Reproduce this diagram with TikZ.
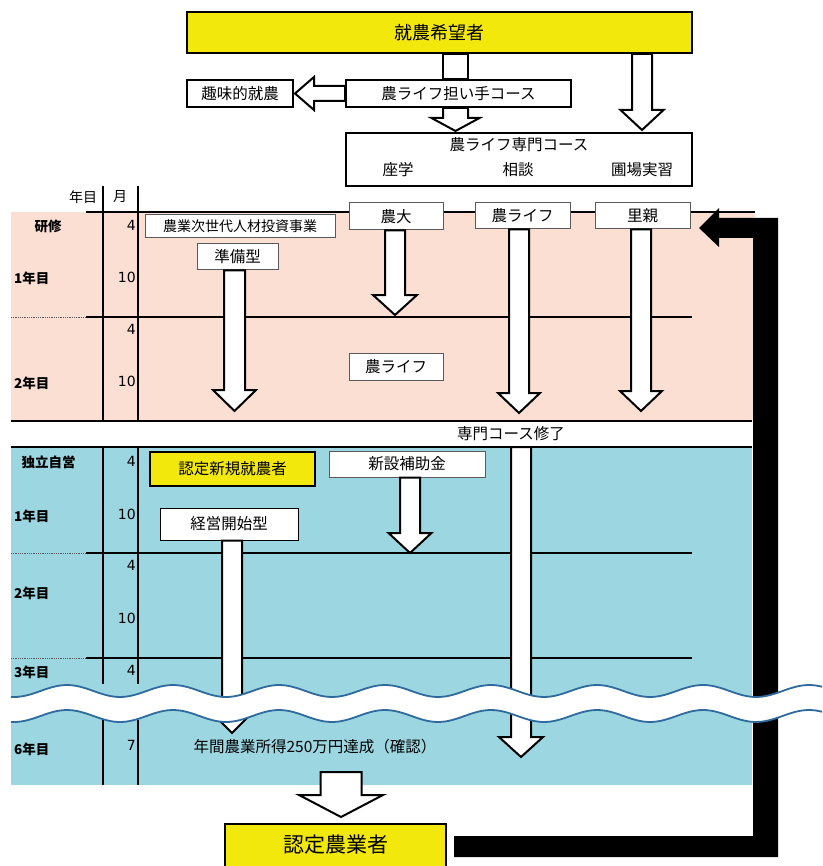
\documentclass[tikz,border=0pt]{standalone}
\usepackage{fontspec}
\setmainfont{Noto Sans CJK JP}
\newfontfamily\digitfont{DejaVu Sans}
\usepackage{xcolor}
\usepackage{tikz}
\usetikzlibrary{calc}

\definecolor{boxyellow}{RGB}{242,232,12}
\definecolor{rowpink}{RGB}{252,223,211}
\definecolor{rowblue}{RGB}{156,215,225}
\definecolor{wavecol}{RGB}{47,106,158}
\definecolor{grayline}{RGB}{90,90,90}

\newcommand\fsbig{\fontsize{18}{20}\selectfont}
\newcommand\fsmain{\fontsize{15.5}{18}\selectfont}
\newcommand\fssmall{\fontsize{14}{16}\selectfont}
\newcommand\fsside{\fontsize{13.5}{16}\selectfont}
\newcommand\fsgoal{\fontsize{21}{24}\selectfont}

% down / left block arrows: from, tip, half shaft, half head, head length
\newcommand\downblock[5]{%
  \draw[blockarrow] let \p1=(#1), \p2=(#2) in
    (\x2-#3pt,\y1) -- (\x2-#3pt,\y2+#5pt) -- (\x2-#4pt,\y2+#5pt) -- (\x2,\y2)
    -- (\x2+#4pt,\y2+#5pt) -- (\x2+#3pt,\y2+#5pt) -- (\x2+#3pt,\y1) -- cycle;}
\newcommand\leftblock[5]{%
  \draw[blockarrow] let \p1=(#1), \p2=(#2) in
    (\x1,\y2+#3pt) -- (\x2+#5pt,\y2+#3pt) -- (\x2+#5pt,\y2+#4pt) -- (\x2,\y2)
    -- (\x2+#5pt,\y2-#4pt) -- (\x2+#5pt,\y2-#3pt) -- (\x1,\y2-#3pt) -- cycle;}

\begin{document}
\begin{tikzpicture}[x=1pt,y=-1pt,
    every node/.style={font=\fsmain,inner sep=0pt},
    headbox/.style={draw,line width=2pt,fill=white},
    yellowbox/.style={headbox,fill=boxyellow},
    tagbox/.style={draw=grayline,line width=1pt,fill=white},
    rowlabel/.style={font=\fsside\bfseries,anchor=west},
    month/.style={anchor=east,font=\digitfont\fontsize{14}{16}\selectfont},
    tline/.style={line width=1.6pt},
    dotline/.style={densely dotted,line width=0.8pt,grayline},
    blockarrow/.style={draw,line width=2pt,fill=white,line join=miter},
    wave/.style={wavecol,line width=1.8pt}]
    \useasboundingbox (0,0) rectangle (822,866);

    % background rows
    \fill[rowpink] (11,212) rectangle (755,421);
    \fill[rowblue] (11,447) rectangle (752,785);

    % table lines
    \draw[tline] (103,186) -- (103,421) (138,186) -- (138,421);
    \draw[tline] (103,447) -- (103,684) (138,447) -- (138,684);
    \draw[tline] (103,720) -- (103,785) (138,720) -- (138,785);
    \draw[tline] (86,212) -- (755,212);
    \draw[tline] (86,317) -- (692,317) (86,553) -- (692,553) (86,658) -- (692,658);
    \draw[dotline] (11,317) -- (86,317) (11,553) -- (86,553) (11,658) -- (86,658);
    \node[fill=white,minimum width=741,minimum height=26] (band) at (381.5,434) {};
    \draw[tline] (band.north west) -- (band.north east) (band.south west) -- (band.south east);
    \node (shuryo) at (511,434) {専門コース修了};

    % top flow
    \node[yellowbox,minimum width=505,minimum height=41,font=\fsbig] (wish) at (439.5,32.5) {就農希望者};
    \node[headbox,minimum width=106,minimum height=27] (hobby) at (240,93.5) {趣味的就農};
    \node[headbox,minimum width=225,minimum height=27] (ninaite) at (458.5,93.5) {農ライフ担い手コース};
    \node[headbox,minimum width=346,minimum height=53] (senmon) at (519,159.5) {};
    \node (senmontitle) at (519,145) {農ライフ専門コース};
    \node (zagaku) at (398,170) {座学};
    \node (soudan) at (518,170) {相談};
    \node (hojou) at (642,170) {圃場実習};

    % header and row labels
    \node[font=\fssmall] (nenme) at (83,197) {年目};
    \node[font=\fssmall] (tsuki) at (120,197) {月};
    \node[font=\fsside\bfseries] (kenshu) at (48,226) {研修};
    \node[rowlabel] (y1a) at (14,278) {1年目};
    \node[rowlabel] (y2a) at (14,383) {2年目};
    \node[font=\fsside\bfseries] (dokuritsu) at (48.5,462) {独立自営};
    \node[rowlabel] (y1b) at (14,516) {1年目};
    \node[rowlabel] (y2b) at (14,593) {2年目};
    \node[rowlabel] (y3b) at (14,672) {3年目};
    \node[rowlabel] (y6b) at (14,749) {6年目};
    \node[month] (m1) at (136,225) {4};
    \node[month] (m2) at (136,277) {10};
    \node[month] (m3) at (136,329) {4};
    \node[month] (m4) at (136,381) {10};
    \node[month] (m5) at (136,461) {4};
    \node[month] (m6) at (136,514) {10};
    \node[month] (m7) at (136,565) {4};
    \node[month] (m8) at (136,618) {10};
    \node[month] (m9) at (136,670) {4};
    \node[month] (m10) at (136,745) {7};

    % training boxes
    \node[tagbox,minimum width=190,minimum height=23,font=\fssmall] (jisedai) at (240,226.5) {農業次世代人材投資事業};
    \node[tagbox,minimum width=81,minimum height=26] (junbi) at (237.5,257) {準備型};
    \node[tagbox,minimum width=94,minimum height=27] (nodai) at (396,216.5) {農大};
    \node[tagbox,minimum width=95,minimum height=26] (nlifeA) at (522.5,216) {農ライフ};
    \node[tagbox,minimum width=95,minimum height=26] (satooya) at (642.5,216) {里親};
    \node[tagbox,minimum width=94,minimum height=27] (nlifeC) at (396,366.5) {農ライフ};

    % independent boxes
    \node[yellowbox,minimum width=165,minimum height=34] (shinki) at (232.5,469) {認定新規就農者};
    \node[tagbox,minimum width=156,minimum height=26] (hojo) at (407,464) {新設補助金};
    \node[tagbox,draw=black,minimum width=138,minimum height=32] (kaishi) at (229,524) {経営開始型};
    \node (shotoku) at (315,747) {年間農業所得250万円達成（確認）};
    \node[yellowbox,minimum width=221,anchor=north,font=\fsgoal,text height=28pt,text depth=24pt] (nintei) at (335.5,823) {認定農業者};

    % arrow ends
    \coordinate (ninaiteend) at (455.5,131);
    \coordinate (wishend) at (642,130);
    \coordinate (hobbyend) at (295,93.5);
    \coordinate (junbiend) at (234.5,411);
    \coordinate (nodaiend) at (395,315);
    \coordinate (nlifeAend) at (519,413);
    \coordinate (satooyaend) at (641,411);
    \coordinate (hojoend) at (410,553);
    \coordinate (kaishiend) at (232,733);
    \coordinate (nlifeBend) at (521,757);
    \coordinate (bluebottom) at (341,772);
    \coordinate (ninteiend) at (341,817);

    \draw[blockarrow] ($(wish.south -| ninaite.north)+(-15.5,0)$) rectangle ($(ninaite.north)+(9.5,0)$);
    \downblock{ninaite.south}{ninaiteend}{12.5}{24}{13}
    \downblock{wish.south}{wishend}{10}{21.5}{20}
    \leftblock{ninaite.west}{hobbyend}{7.5}{16.5}{19}
    \downblock{junbi.south}{junbiend}{10.5}{21.5}{21}
    \downblock{nodai.south}{nodaiend}{10}{22}{20}
    \downblock{nlifeA.south}{nlifeAend}{10}{21}{20}
    \downblock{satooya.south}{satooyaend}{10}{21}{20}
    \downblock{hojo.south}{hojoend}{10}{21.5}{20}
    \downblock{kaishi.south}{kaishiend}{10}{21}{21}
    \downblock{band.south}{nlifeBend}{10}{22}{20}
    \downblock{bluebottom}{ninteiend}{20.5}{42}{22}

    % way back to the field
    \fill[black] ($(nintei.north east)+(7,13)$) -- ++(299,0) -- ++(0,-598) -- ++(-34,0)
        -- ++(0,9) -- ++(-20,-19) -- ++(20,-20) -- ++(0,10) -- ++(59,0)
        -- ++(0,639) -- ++(-324,0) -- cycle;

    % break in time
    \fill[white] plot[domain=11:822,samples=120,smooth] (\x,{691-6*cos((\x-67)/106*360)})
        -- plot[domain=822:11,samples=120,smooth] (\x,{716-6*cos((\x-67)/106*360)}) -- cycle;
    \draw[wave] plot[domain=11:822,samples=120,smooth] (\x,{691-6*cos((\x-67)/106*360)});
    \draw[wave] plot[domain=11:822,samples=120,smooth] (\x,{716-6*cos((\x-67)/106*360)});
\end{tikzpicture}
\end{document}
